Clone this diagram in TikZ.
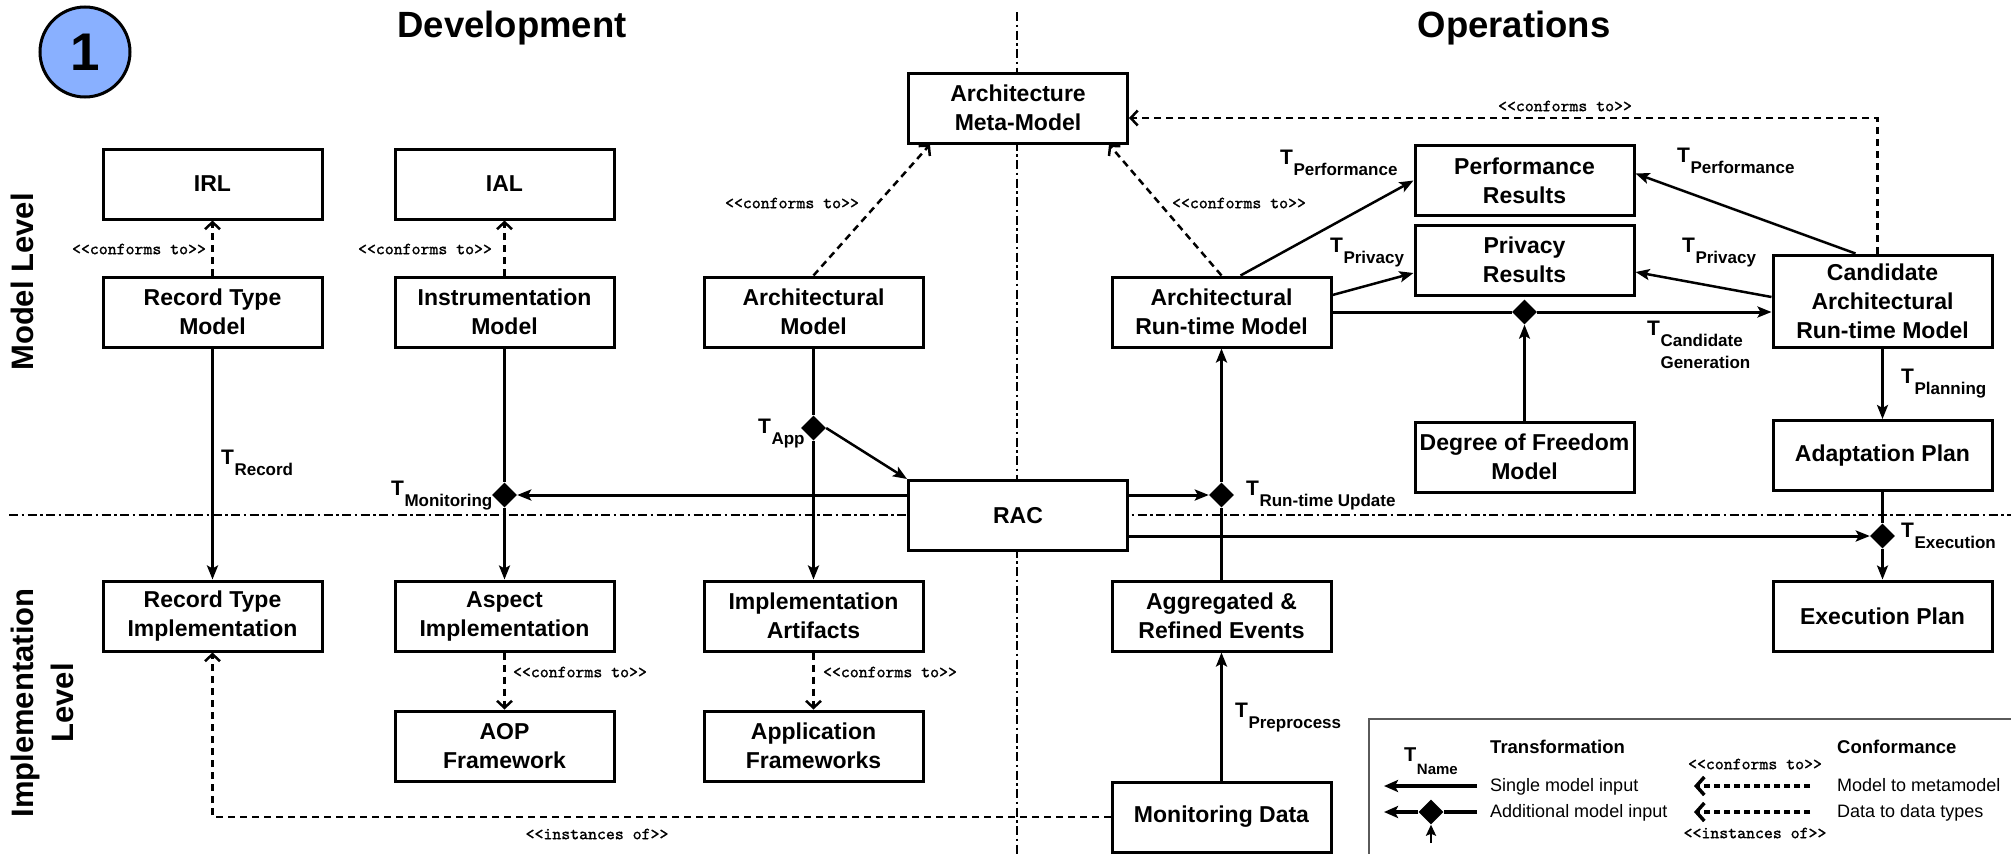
\documentclass[tikz,border=0pt]{standalone}
\usepackage{fontspec}
\setmainfont{Liberation Sans}
\newfontfamily\cmono{lmmono10-regular.otf}[FakeBold=1.2]
\usetikzlibrary{arrows.meta,shapes.geometric}
\definecolor{circblue}{RGB}{137,176,255}
\definecolor{leggray}{RGB}{90,90,90}
\newcommand{\Tl}[1]{{\fontsize{21}{21}\selectfont T}\kern0.5pt\raisebox{-11pt}{\fontsize{17}{17}\selectfont #1}}
\tikzset{
 box/.style={draw, line width=3pt, fill=white, minimum width=219pt, minimum height=70pt, inner sep=0pt, align=center, font=\bfseries\fontsize{23}{29}\selectfont},
 tr/.style={line width=3pt, -{Stealth[length=14pt,width=11pt,inset=3pt]}},
 trl/.style={line width=3pt},
 conf/.style={line width=2.5pt, dash pattern=on 7pt off 5pt, -{Straight Barb[length=7pt,width=15pt,line width=2.5pt]}},
 divline/.style={line width=2.6pt, dash pattern=on 9pt off 3.5pt on 2.5pt off 3.5pt},
 diam/.style={diamond, fill=black, minimum size=25pt, inner sep=0pt},
 clab/.style={font=\cmono\fontsize{17}{17}\selectfont, inner sep=0pt},
 tlab/.style={font=\bfseries, anchor=base west, inner sep=0pt},
 title/.style={font=\bfseries\fontsize{36.5}{36.5}\selectfont, anchor=base, inner sep=0pt},
 lvl/.style={rotate=90, align=center, inner sep=0pt, font=\bfseries\fontsize{31}{40}\selectfont},
 legtxt/.style={anchor=base west, inner sep=0pt, font=\fontsize{18}{18}\selectfont},
 leghead/.style={anchor=base west, inner sep=0pt, font=\bfseries\fontsize{18.5}{18.5}\selectfont},
 legconf/.style={line width=3.5pt, dash pattern=on 6pt off 4pt, -{Straight Barb[length=8pt,width=18pt,line width=3.5pt]}},
}
\begin{document}
\begin{tikzpicture}[x=1pt,y=-1pt]
\useasboundingbox (0,0) rectangle (2011,854);
% dividers
\coordinate (vtop) at (1017,12);
\coordinate (vbot) at (1017,854);
\coordinate (hl) at (9,515);
\coordinate (hr) at (2011,515);
\draw[divline] (vtop) -- (vbot);
\draw[divline] (hl) -- (hr);
% titles
\node[circle, draw, line width=3pt, fill=circblue, minimum size=90pt, inner sep=0pt, font=\bfseries\fontsize{53}{53}\selectfont] (one) at (85,52) {1};
\node[title] (dev) at (512,37) {Development};
\node[title] (ops) at (1514,37) {Operations};
\node[lvl] (ml) at (22,282) {Model Level};
\node[lvl] (il) at (42,703) {Implementation\\Level};
% boxes
\node[box] (IRL) at (212.5,184) {IRL};
\node[box] (IAL) at (504.5,184) {IAL};
\node[box] (RTM) at (212.5,312) {Record Type\\Model};
\node[box] (IM) at (504.5,312) {Instrumentation\\Model};
\node[box] (AMM) at (1018,108) {Architecture\\Meta-Model};
\node[box] (AM) at (813.5,312) {Architectural\\Model};
\node[box] (ARM) at (1221.5,312) {Architectural\\Run-time Model};
\node[box] (PR) at (1524.5,180.5) {Performance\\Results};
\node[box] (PrR) at (1524.5,260) {Privacy\\Results};
\node[box, minimum height=92pt] (CARM) at (1882.5,301) {Candidate\\Architectural\\Run-time Model};
\node[box] (DoF) at (1524.5,457) {Degree of Freedom\\Model};
\node[box] (AP) at (1882.5,455.5) {Adaptation Plan};
\node[box] (EP) at (1882.5,616) {Execution Plan};
\node[box] (RTI) at (212.5,616) {Record Type\\Implementation};
\node[box] (AI) at (504.5,616) {Aspect\\Implementation};
\node[box] (AOP) at (504.5,746) {AOP\\Framework};
\node[box] (IA) at (813.5,616) {Implementation\\Artifacts};
\node[box] (AF) at (813.5,746) {Application\\Frameworks};
\node[box] (RAC) at (1018,515.5) {RAC};
\node[box] (AGG) at (1221.5,616) {Aggregated \&\\Refined Events};
\node[box] (MD) at (1221.5,817) {Monitoring Data};
% diamonds
\node[diam] (dMon) at (504.5,495) {};
\node[diam] (dApp) at (813.5,428) {};
\node[diam] (dRT) at (1221.5,495) {};
\node[diam] (dCand) at (1524.5,312) {};
\node[diam] (dExe) at (1882.5,536) {};
% conformance
\draw[conf] (RTM.north) -- (IRL.south);
\draw[conf] (IM.north) -- (IAL.south);
\draw[conf] (AM.north) -- ([xshift=23pt]AMM.south west);
\draw[conf] (ARM.north) -- ([xshift=-20pt]AMM.south east);
\draw[conf] ([xshift=-5pt]CARM.north) |- ([yshift=-10pt]AMM.east);
\draw[conf] (AI.south) -- (AOP.north);
\draw[conf] (IA.south) -- (AF.north);
\draw[conf] (MD.west) -| (RTI.south);
\node[clab] (c1) at (139,249) {<<conforms to>>};
\node[clab] (c2) at (425,249) {<<conforms to>>};
\node[clab] (c3) at (792,203) {<<conforms to>>};
\node[clab] (c4) at (1239,203) {<<conforms to>>};
\node[clab] (c5) at (1565,106) {<<conforms to>>};
\node[clab] (c6) at (580,672) {<<conforms to>>};
\node[clab] (c7) at (890,672) {<<conforms to>>};
\node[clab] (c8) at (597,834) {<<instances of>>};
% transformations
\draw[tr] (RTM.south) -- (RTI.north);
\draw[trl] (IM.south) -- (dMon.north);
\draw[tr, line width=2.5pt] (dMon.south) -- (AI.north);
\draw[tr] (RAC.west |- dMon) -- (dMon.east);
\draw[trl] (AM.south) -- (dApp.north);
\draw[tr] (dApp.south) -- (IA.north);
\draw[tr, line width=2.5pt] (dApp.east) -- (RAC.north west);
\draw[tr] (RAC.east |- dRT) -- (dRT.west);
\draw[trl] (AGG.north) -- (dRT.south);
\draw[tr] (dRT.north) -- (ARM.south);
\draw[tr] (MD.north) -- (AGG.south);
\draw[tr, line width=2.5pt] ([xshift=19pt]ARM.north) -- (PR.west);
\draw[tr, line width=2.5pt] ([yshift=17pt]ARM.east) -- ([yshift=-13pt]PrR.west);
\draw[trl] (ARM.east) -- (dCand.west);
\draw[tr] (dCand.east) -- (CARM.west |- dCand);
\draw[tr, line width=2.2pt] (DoF.north) -- (dCand.south);
\draw[tr, line width=2.5pt] ([xshift=-27pt]CARM.north) -- ([yshift=7pt]PR.east);
\draw[tr, line width=2.5pt] ([yshift=4pt]CARM.west) -- ([yshift=-12pt]PrR.east);
\draw[tr, line width=2.5pt] (CARM.south) -- (AP.north);
\draw[trl] (AP.south) -- (dExe.north);
\draw[tr, line width=2.5pt] (dExe.south) -- (EP.north);
\draw[tr] (RAC.east |- dExe) -- (dExe.west);
% T labels
\node[tlab] (tRec) at (221,464) {\Tl{Record}};
\node[tlab] (tMon) at (391,495) {\Tl{Monitoring}};
\node[tlab] (tApp) at (758,433) {\Tl{App}};
\node[tlab] (tRT) at (1246,495) {\Tl{Run-time Update}};
\node[tlab] (tPre) at (1235,717) {\Tl{Preprocess}};
\node[tlab] (tPerf1) at (1280,164) {\Tl{Performance}};
\node[tlab] (tPriv1) at (1330,252) {\Tl{Privacy}};
\node[tlab] (tPerf2) at (1677,162) {\Tl{Performance}};
\node[tlab] (tPriv2) at (1682,252) {\Tl{Privacy}};
\node[tlab] (tCand) at (1647,335) {{\fontsize{21}{21}\selectfont T}\kern0.5pt\raisebox{-11pt}{\fontsize{17}{22}\selectfont\begin{tabular}[t]{@{}l@{}}Candidate\\Generation\end{tabular}}};
\node[tlab] (tPlan) at (1901,383) {\Tl{Planning}};
\node[tlab] (tExe) at (1901,537) {\Tl{Execution}};
% legend
\coordinate (lgr) at (2011,719);
\coordinate (lgb) at (1369,854);
\draw[leggray, line width=1.5pt] (lgr) -| (lgb);
\node[tlab] (tName) at (1404,761) {{\fontsize{20}{20}\selectfont T}\kern0.5pt\raisebox{-13pt}{\fontsize{15}{15}\selectfont Name}};
\node[leghead] (lh1) at (1490,753) {Transformation};
\node[leghead] (lh2) at (1837,753) {Conformance};
\node[legtxt] (lt1) at (1490,791) {Single model input};
\node[legtxt] (lt2) at (1490,817) {Additional model input};
\node[legtxt] (lt3) at (1837,791) {Model to metamodel};
\node[legtxt] (lt4) at (1837,817) {Data to data types};
\coordinate (s1a) at (1477,786);
\coordinate (s1b) at (1384,786);
\draw[line width=3.5pt, -{Stealth[length=14pt,width=12pt,inset=3pt]}] (s1a) -- (s1b);
\coordinate (s2a) at (1477,812);
\coordinate (s2b) at (1384,812);
\coordinate (s2c) at (1431,843);
\node[diam] (dLeg) at (1431,812) {};
\draw[line width=3.5pt] (s2a) -- (dLeg.east);
\draw[line width=3.5pt, -{Stealth[length=14pt,width=12pt,inset=3pt]}] (dLeg.west) -- (s2b);
\draw[line width=2.5pt, -{Stealth[length=11pt,width=10pt,inset=2pt]}] (s2c) -- (dLeg.south);
\coordinate (d1a) at (1810,786);
\coordinate (d1b) at (1694,786);
\coordinate (d2a) at (1810,812);
\coordinate (d2b) at (1694,812);
\draw[legconf] (d1a) -- (d1b);
\draw[legconf] (d2a) -- (d2b);
\node[clab] (lc1) at (1755,764) {<<conforms to>>};
\node[clab] (lc2) at (1755,833) {<<instances of>>};
\end{tikzpicture}
\end{document}
